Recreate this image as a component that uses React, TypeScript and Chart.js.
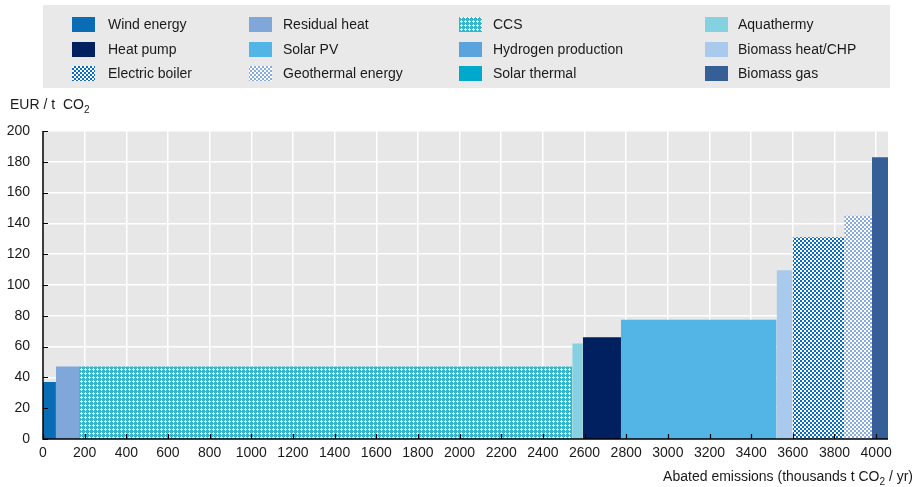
import React, { useEffect, useRef } from 'react';
import { Chart, registerables } from 'chart.js';

Chart.register(...registerables);

// Bars in merit order (left to right)
const technologies = [
  'Wind energy',
  'Residual heat',
  'CCS',
  'Aquathermy',
  'Heat pump',
  'Solar PV',
  'Biomass heat/CHP',
  'Electric boiler',
  'Geothermal energy',
  'Biomass gas',
];
// Abated emissions per technology (thousands t CO2 / yr) = bar widths
const abatement = [62, 111, 2368, 51, 183, 747, 77, 248, 133, 77];
// Abatement cost (EUR / t CO2) = bar heights
const costs = [37, 47, 47, 62, 66, 77.5, 109.5, 131, 145, 183];

// Legend entries, column by column (4 columns x 3 rows)
const legendOrder = [
  'Wind energy', 'Heat pump', 'Electric boiler',
  'Residual heat', 'Solar PV', 'Geothermal energy',
  'CCS', 'Hydrogen production', 'Solar thermal',
  'Aquathermy', 'Biomass heat/CHP', 'Biomass gas',
];

const yMin = 0;
const yMax = 200;
const yStep = 20;
const xStep = 200;

const yTitle = 'EUR / t  CO';
const xTitleA = 'Abated emissions (thousands t CO';
const xTitleB = ' / yr)';

const FONT = "'Liberation Sans', Arial, sans-serif";

function makePattern(kind: string, fg: string, bg: string): CanvasPattern | string {
  const c = document.createElement('canvas');
  c.width = 4;
  c.height = 4;
  const g = c.getContext('2d');
  if (!g) return fg;
  g.fillStyle = bg;
  g.fillRect(0, 0, 4, 4);
  g.fillStyle = fg;
  if (kind === 'checker') {
    g.fillRect(0, 0, 2, 2);
    g.fillRect(2, 2, 2, 2);
  } else {
    // cross pattern: fg = white crosses on coloured base
    g.fillRect(1, 0, 1, 3);
    g.fillRect(0, 1, 3, 1);
  }
  const p = g.createPattern(c, 'repeat');
  return p || fg;
}

export default function App() {
  const ref = useRef<HTMLCanvasElement | null>(null);

  useEffect(() => {
    document.body.style.margin = '0';
    const canvas = ref.current;
    if (!canvas) return;

    const fills: Record<string, any> = {
      'Wind energy': '#0a6cb5',
      'Heat pump': '#00205f',
      'Electric boiler': makePattern('checker', '#0b6cbf', '#ffffff'),
      'Residual heat': '#80a7da',
      'Solar PV': '#52b5e6',
      'Geothermal energy': makePattern('checker', '#86abdc', '#ffffff'),
      'CCS': makePattern('cross', '#ffffff', '#35b6cc'),
      'Hydrogen production': '#5ba3dc',
      'Solar thermal': '#00a9cc',
      'Aquathermy': '#86d1e1',
      'Biomass heat/CHP': '#a9caec',
      'Biomass gas': '#355f96',
    };

    let start = 0;
    const datasets = technologies.map((t, i) => {
      const s = start;
      const e = start + abatement[i];
      start = e;
      return {
        label: t,
        data: [
          { x: s, y: costs[i] },
          { x: e, y: costs[i] },
        ],
        fill: 'origin',
        backgroundColor: fills[t],
        borderColor: 'rgba(0,0,0,0)',
        borderWidth: 0,
        pointRadius: 0,
        pointHoverRadius: 0,
        tension: 0,
      };
    });
    const xMax = start;

    const bgPlugin = {
      id: 'plotBg',
      beforeDraw(chart: any) {
        const { ctx, chartArea: a } = chart;
        ctx.save();
        ctx.fillStyle = '#e7e7e7';
        ctx.fillRect(a.left, a.top, a.right - a.left, a.bottom - a.top);
        ctx.restore();
      },
    };

    const axisPlugin = {
      id: 'axesInner',
      afterDatasetsDraw(chart: any) {
        const { ctx, chartArea: a, scales } = chart;
        ctx.save();
        ctx.strokeStyle = '#000';
        ctx.lineWidth = 1.5;
        ctx.beginPath();
        ctx.moveTo(a.left, a.top);
        ctx.lineTo(a.left, a.bottom);
        ctx.lineTo(a.right, a.bottom);
        ctx.stroke();
        ctx.lineWidth = 1.2;
        ctx.beginPath();
        scales.y.ticks.forEach((t: any) => {
          const y = Math.round(scales.y.getPixelForValue(t.value)) + 0.5;
          ctx.moveTo(a.left, y);
          ctx.lineTo(a.left + 5, y);
        });
        scales.x.ticks.forEach((t: any) => {
          const x = Math.round(scales.x.getPixelForValue(t.value)) + 0.5;
          ctx.moveTo(x, a.bottom);
          ctx.lineTo(x, a.bottom - 5);
        });
        ctx.stroke();
        ctx.restore();
      },
    };

    const textPlugin = {
      id: 'legendTitles',
      afterDraw(chart: any) {
        const { ctx } = chart;
        ctx.save();
        // legend box
        ctx.fillStyle = '#e9e9e9';
        ctx.fillRect(43, 5, 847, 83);
        const colSw = [72, 249, 459, 705];
        const colTx = [108, 283, 493, 738];
        const rowY = [24, 49, 73];
        ctx.font = `14px ${FONT}`;
        ctx.textBaseline = 'middle';
        ctx.textAlign = 'left';
        legendOrder.forEach((name, i) => {
          const col = Math.floor(i / 3);
          const row = i % 3;
          ctx.fillStyle = fills[name];
          ctx.fillRect(colSw[col], rowY[row] - 7, 23, 15);
          ctx.fillStyle = '#1a1a1a';
          ctx.fillText(name, colTx[col], rowY[row] + 1);
        });

        // y title
        ctx.fillStyle = '#1a1a1a';
        ctx.font = `14px ${FONT}`;
        ctx.fillText(yTitle, 10, 105);
        const w1 = ctx.measureText(yTitle).width;
        ctx.font = `10px ${FONT}`;
        ctx.fillText('2', 10 + w1, 110);

        // x title (right aligned)
        ctx.font = `14px ${FONT}`;
        const wa = ctx.measureText(xTitleA).width;
        const wc = ctx.measureText(xTitleB).width;
        ctx.font = `10px ${FONT}`;
        const wb = ctx.measureText('2').width;
        const right = 913;
        const x0 = right - wa - wb - wc;
        const ty = 477;
        ctx.font = `14px ${FONT}`;
        ctx.fillText(xTitleA, x0, ty);
        ctx.fillText(xTitleB, x0 + wa + wb, ty);
        ctx.font = `10px ${FONT}`;
        ctx.fillText('2', x0 + wa, ty + 5);
        ctx.restore();
      },
    };

    const chart = new Chart(canvas, {
      type: 'line',
      data: { datasets: datasets as any },
      options: {
        animation: false,
        responsive: false,
        maintainAspectRatio: false,
        events: [],
        layout: { padding: { top: 131, right: 31, left: 0, bottom: 0 } },
        plugins: {
          legend: { display: false },
          tooltip: { enabled: false },
          title: { display: false },
        },
        scales: {
          x: {
            type: 'linear',
            min: 0,
            max: xMax,
            grid: { color: '#ffffff', lineWidth: 1.5, drawTicks: false },
            border: { display: false },
            ticks: {
              stepSize: xStep,
              includeBounds: false,
              autoSkip: false,
              maxRotation: 0,
              padding: 6,
              color: '#1a1a1a',
              font: { family: FONT, size: 14 },
              callback: (v: any) => String(v),
            },
            afterFit(scale: any) {
              scale.height = 48;
            },
          },
          y: {
            type: 'linear',
            min: yMin,
            max: yMax,
            grid: { color: '#ffffff', lineWidth: 1.5, drawTicks: false },
            border: { display: false },
            ticks: {
              stepSize: yStep,
              padding: 13,
              color: '#1a1a1a',
              font: { family: FONT, size: 14 },
              callback: (v: any) => String(v),
            },
            afterFit(scale: any) {
              scale.width = 43;
            },
          },
        },
      },
      plugins: [bgPlugin, axisPlugin, textPlugin],
    });

    return () => chart.destroy();
  }, []);

  return (
    <div style={{ width: 919, height: 487 }}>
      <canvas ref={ref} width={919} height={487} style={{ display: 'block' }} />
    </div>
  );
}
